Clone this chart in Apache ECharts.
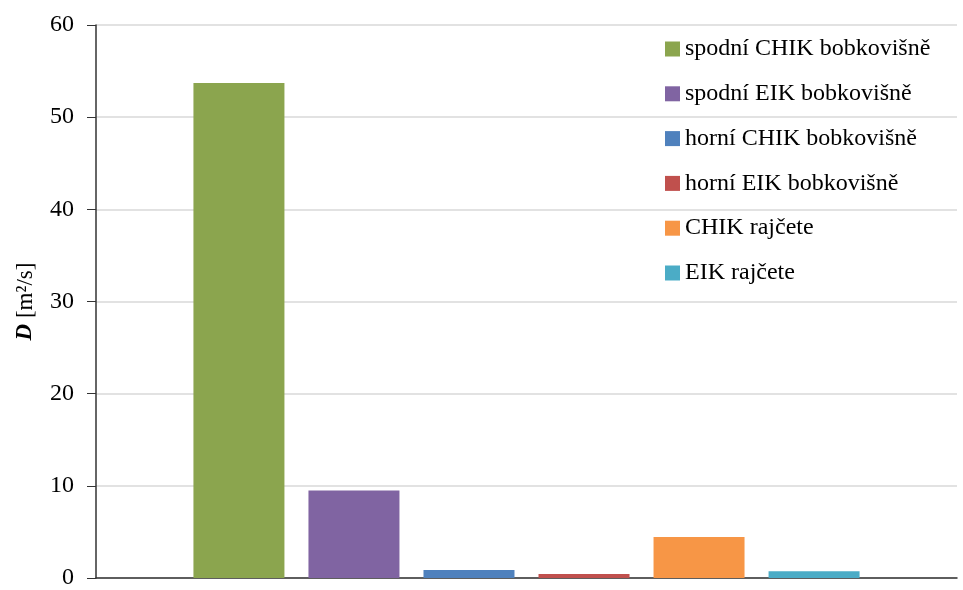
<!DOCTYPE html>
<html>
<head>
<meta charset="utf-8">
<script src="https://cdn.jsdelivr.net/npm/echarts@6/dist/echarts.min.js"></script>
<style>html,body{margin:0;padding:0;background:#fff}#c{width:963px;height:590px}</style>
</head>
<body>
<div id="c"></div>
<script>
var categories = [''];
var seriesNames = ['spodní CHIK bobkovišně', 'spodní EIK bobkovišně', 'horní CHIK bobkovišně', 'horní EIK bobkovišně', 'CHIK rajčete', 'EIK rajčete'];
var seriesValues = [53.7, 9.5, 0.87, 0.44, 4.45, 0.73];
var seriesColors = ['#8BA54E', '#8064A2', '#4F81BD', '#C0504D', '#F79646', '#4BACC6'];
var yTicks = [0, 10, 20, 30, 40, 50, 60];

var font = '"Liberation Serif", "Times New Roman", serif';
var chart = echarts.init(document.getElementById('c'));
chart.setOption({
  animation: false,
  grid: {left: 96, right: 6, top: 25, bottom: 8, containLabel: false},
  legend: {
    orient: 'vertical', left: 665, top: 37, padding: 0,
    itemWidth: 15, itemHeight: 15, itemGap: 20.8, itemTextGap: 4,
    icon: 'rect',
    textStyle: {fontFamily: font, fontSize: 24, color: '#000'},
    data: seriesNames
  },
  xAxis: {
    type: 'category', data: categories,
    axisLine: {lineStyle: {color: '#333', width: 1.5}},
    axisTick: {show: false}, axisLabel: {show: false}
  },
  yAxis: {
    type: 'value', min: yTicks[0], max: yTicks[yTicks.length - 1], interval: 10,
    name: '{b|D} [m²/s]',
    nameLocation: 'middle', nameRotate: 90, nameGap: 59,
    nameTextStyle: {fontFamily: font, fontSize: 23, color: '#000', rich: {b: {fontFamily: font, fontSize: 23, fontWeight: 'bold', fontStyle: 'italic', color: '#000'}}},
    axisLine: {show: true, lineStyle: {color: '#333', width: 1.5}},
    axisTick: {show: true, length: 9, inside: false, lineStyle: {color: '#333'}},
    axisLabel: {fontFamily: font, fontSize: 24, color: '#000', margin: 22},
    splitLine: {lineStyle: {color: '#d9d9d9', width: 1.5}}
  },
  series: seriesNames.map(function (n, i) {
    return {
      name: n, type: 'bar', data: [seriesValues[i]],
      barWidth: 91, barGap: '26.4%',
      itemStyle: {color: seriesColors[i]}
    };
  })
});
</script>
</body>
</html>
